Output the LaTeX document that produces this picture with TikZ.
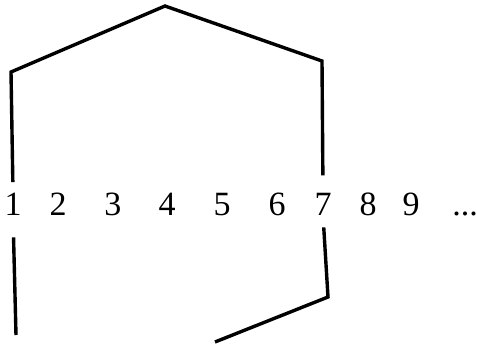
\documentclass[tikz,border=0pt]{standalone}
\usepackage{fontspec}
\setmainfont{Liberation Serif}
\tikzset{
  num/.style={font=\fontsize{17}{20}\selectfont,inner sep=0pt,anchor=base},
  link/.style={line width=1.7pt,line join=miter}
}
\begin{document}
\begin{tikzpicture}[x=0.5pt,y=-0.5pt]
  \useasboundingbox (0,0) rectangle (477,349);
  % the row of numbers
  \foreach \i/\x in {1/13,2/58,3/113,4/167,5/222,6/277,7/323,8/368,9/411}
    {\node[num] (n\i) at (\x,215) {\i};}
  \node[num] (ndots) at (465,215) {...};
  % corners
  \coordinate (topleft) at (11,72);
  \coordinate (apex) at (165,6);
  \coordinate (topright) at (322,61);
  \coordinate (lowright) at (328,297);
  \coordinate (leftend) at (16,335);
  \coordinate (rightend) at (215,342);
  % top arc from 1 to 7
  \draw[link,shorten <=5pt,shorten >=8.5pt]
    (n1.north) -- (topleft) -- (apex) -- (topright) -- (n7.north);
  % lower pieces
  \draw[link,shorten <=11pt] (n1.south) -- (leftend);
  \draw[link,shorten <=6pt] (n7.south) -- (lowright) -- (rightend);
\end{tikzpicture}
\end{document}
